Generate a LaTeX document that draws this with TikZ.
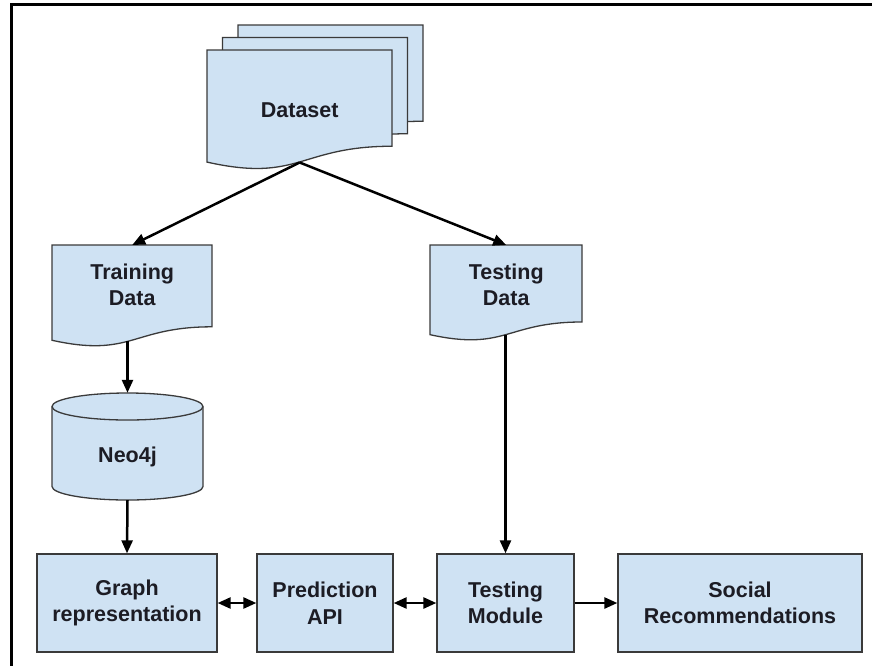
\documentclass[tikz,border=0pt]{standalone}
\usepackage{fontspec}
\setmainfont{Liberation Sans}
\usetikzlibrary{arrows.meta,calc}
\definecolor{boxfill}{HTML}{CFE2F3}
\definecolor{boxline}{HTML}{3A3A3A}
\definecolor{txt}{HTML}{1C1C24}
\tikzset{
  lbl/.style={align=center,text=txt,inner sep=0pt,
    font=\fontsize{21.5}{26.5}\selectfont\bfseries},
  shapebox/.style={fill=boxfill,draw=boxline,line width=1.3pt},
  rectbox/.style={lbl,shapebox},
  arr/.style={line width=2.5pt,-{Triangle[length=13pt,width=11pt]}},
  darr/.style={line width=2.5pt,{Triangle[length=13pt,width=11pt]}-{Triangle[length=13pt,width=11pt]}}
}
% document shape outline: x, y, w, h
\newcommand\docpath[4]{%
  \filldraw[shapebox] (#1,#2) -- ({#1+#3},#2) -- ({#1+#3},{#2+0.802*#4})
    .. controls ({#1+0.5*#3},{#2+0.802*#4}) and ({#1+0.5*#3},{#2+1.1075*#4}) ..
    (#1,{#2+0.934*#4}) -- cycle;}
% document node: name, x, y, w, h, text shift (pt, up), text
\newcommand\docnode[7]{%
  \docpath{#2}{#3}{#4}{#5}%
  \node[inner sep=0pt,minimum width=#4,minimum height={0.934*#5},anchor=north west,
    label={[lbl,yshift=#6pt]center:#7}] (#1) at (#2,#3) {};}
\begin{document}
\begin{tikzpicture}[x=1pt,y=-1pt]
\useasboundingbox (0,0) rectangle (872,665);
% frame
\draw[line width=3pt,line cap=rect] (11.5,665) -- (11.5,4.5) -- (872,4.5);

% dataset stack
\docpath{238}{25}{185}{120}
\docpath{222.5}{37.5}{185}{120}
\docnode{ds}{207}{50}{185}{120}{-4}{Dataset}

% training / testing data
\docnode{train}{52}{245}{160}{102}{8}{Training\\Data}
\docnode{tdata}{430}{245}{152}{96}{5}{Testing\\Data}

% Neo4j cylinder
\fill[boxfill] (52,406.5) -- (52,486.5)
  arc[start angle=180,end angle=360,x radius=75.5pt,y radius=13.5pt]
  -- (203,406.5) -- cycle;
\draw[boxline,line width=1.3pt] (52,406.5) -- (52,486.5)
  arc[start angle=180,end angle=360,x radius=75.5pt,y radius=13.5pt]
  -- (203,406.5);
\filldraw[shapebox] (127.5,406.5) ellipse[x radius=75.5pt,y radius=13.5pt];
\node[inner sep=0pt,minimum width=151,minimum height=107,
  label={[lbl,yshift=-10pt]center:Neo4j}] (neo) at (127.5,446.5) {};

% bottom row
\node[rectbox,minimum width=180,minimum height=98] (graph) at (127,603) {Graph\\representation};
\node[rectbox,minimum width=136,minimum height=98] (pred) at (325,603) {Prediction\\API};
\node[rectbox,minimum width=137,minimum height=98] (tmod) at (505.5,603) {Testing\\Module};
\node[rectbox,minimum width=244,minimum height=98] (soc) at (740,603) {Social\\Recommendations};

% connectors
\draw[arr] (ds.south) -- (train.north);
\draw[arr] (ds.south) -- (tdata.north);
\draw[arr] (train.south -| neo.north) -- (neo.north);
\draw[arr] (neo.south) -- (graph.north);
\draw[arr] (tdata.south -| tmod.north) -- (tmod.north);
\draw[darr] (graph.east) -- (pred.west);
\draw[darr] (pred.east) -- (tmod.west);
\draw[arr] (tmod.east) -- (soc.west);
\end{tikzpicture}
\end{document}
